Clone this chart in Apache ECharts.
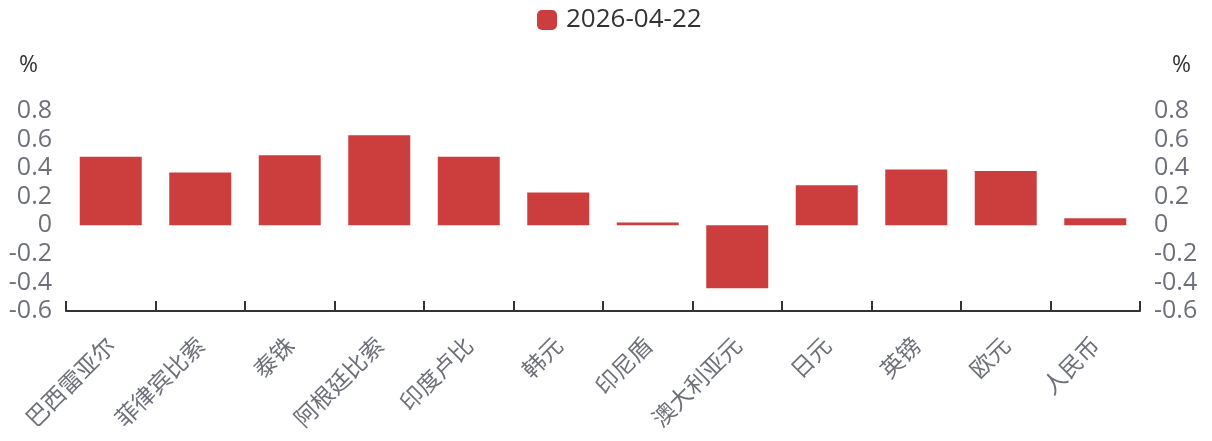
<!DOCTYPE html>
<html>
<head>
<meta charset="utf-8">
<script src="https://cdn.jsdelivr.net/npm/echarts@6/dist/echarts.min.js"></script>
<style>
  html, body { margin: 0; padding: 0; background: #fff; }
  #main { width: 1212px; height: 441px; }
</style>
</head>
<body>
<div id="main"></div>
<script>
var categories = ['巴西雷亚尔', '菲律宾比索', '泰铢', '阿根廷比索', '印度卢比', '韩元', '印尼盾', '澳大利亚元', '日元', '英镑', '欧元', '人民币'];
var seriesName = '2026-04-22';
var values = [0.48, 0.37, 0.49, 0.63, 0.48, 0.23, 0.02, -0.44, 0.28, 0.39, 0.38, 0.05];
var yMin = -0.6, yMax = 0.8, yStep = 0.2;

var chart = echarts.init(document.getElementById('main'));

var fontFamily = '"Open Sans", "Noto Sans CJK SC", sans-serif';
var labelColor = '#6e7079';

function yAxisCfg(pos) {
  var left = pos === 'left';
  return {
    type: 'value',
    position: pos,
    name: '%',
    nameLocation: 'end',
    nameGap: 34,
    nameTextStyle: {
      color: '#333',
      fontSize: 23,
      fontFamily: fontFamily,
      align: left ? 'right' : 'left',
      padding: left ? [0, 28, 0, 0] : [0, 0, 0, 32]
    },
    min: yMin,
    max: yMax,
    interval: yStep,
    axisLine: { show: false },
    axisTick: { show: false },
    splitLine: { show: false },
    axisLabel: {
      color: labelColor,
      fontSize: 25,
      fontFamily: fontFamily,
      margin: 14,
      formatter: function (v) { return String(Math.round(v * 10) / 10); }
    }
  };
}

var option = {
  animation: false,
  legend: {
    top: 2,
    left: 532,
    itemWidth: 20,
    itemHeight: 20,
    itemGap: 10,
    icon: 'roundRect',
    textStyle: { color: '#333', fontSize: 26, fontFamily: fontFamily, padding: [0, 0, 0, 4] },
    data: [seriesName]
  },
  grid: { left: 66, right: 72, top: 111, bottom: 130 },
  xAxis: {
    type: 'category',
    data: categories,
    axisLine: { show: true, onZero: false, lineStyle: { color: '#333', width: 2 } },
    axisTick: { show: true, inside: true, length: 10, lineStyle: { color: '#333', width: 2 } },
    axisLabel: {
      rotate: 45,
      interval: 0,
      color: labelColor,
      fontSize: 23,
      fontFamily: '"Noto Sans CJK SC", sans-serif',
      margin: 30
    }
  },
  yAxis: [yAxisCfg('left'), yAxisCfg('right')],
  series: [{
    name: seriesName,
    type: 'bar',
    barWidth: 62,
    itemStyle: { color: '#cc3e3e' },
    data: values
  }]
};

chart.setOption(option);
</script>
</body>
</html>
